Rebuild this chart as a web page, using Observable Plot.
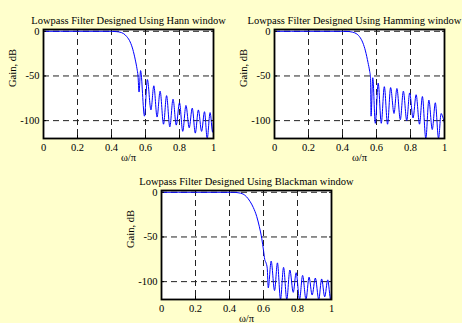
<!DOCTYPE html>
<html><head><meta charset="utf-8">
<script src="https://cdn.jsdelivr.net/npm/d3@7"></script>
<script src="https://cdn.jsdelivr.net/npm/@observablehq/plot@0.6"></script>
<style>
html,body{margin:0;padding:0;background:#ffffcc;}
#wrap{position:relative;width:462px;height:323px;overflow:hidden;background:#ffffcc;}
.panel{position:absolute;}
</style></head><body><div id="wrap"></div>
<script>
const xTicks = [0, 0.2, 0.4, 0.6, 0.8, 1];
const yTicks = [0, -50, -100];
const titles = ["Lowpass Filter Designed Using Hann window",
                "Lowpass Filter Designed Using Hamming window",
                "Lowpass Filter Designed Using Blackman window"];
const xLabel = "ω/π";
const yLabel = "Gain, dB";

const hannW  = [0,0.2,0.4,0.43,0.45,0.47,0.49,0.51,0.525,0.54,0.55,0.556,0.562,
  0.571,0.594,0.611,0.632,0.649,0.668,0.686,0.706,0.724,0.743,0.762,0.781,0.800,0.819,0.838,0.857,0.875,0.893,0.911,0.930,0.947,0.963,0.980,0.995,1.0];
const hannDb = [0,0,0,-0.4,-1,-2.5,-6,-12,-20,-32,-42,-50,-68,
  -44,-95,-54,-88,-61,-96,-67,-104,-72,-107,-76,-105,-80,-112,-83,-108,-86,-114,-88,-112,-90,-120,-91,-113,-100];

const hammW  = [0,0.2,0.4,0.44,0.46,0.48,0.50,0.52,0.535,0.55,0.56,0.565,0.568,
  0.578,0.593,0.61,0.628,0.646,0.665,0.683,0.703,0.72,0.74,0.758,0.778,0.795,0.815,0.833,0.853,0.87,0.89,0.908,0.928,0.946,0.965,0.98,0.99,1.0];
const hammDb = [0,0,0,-0.3,-1,-2.5,-6,-13,-22,-35,-45,-52,-95,
  -52,-103,-58,-103,-62,-104,-63,-92,-64,-99,-67,-100,-69,-97,-71,-104,-73,-120,-77,-110,-80,-120,-92,-96,-103];

const blackW  = [0,0.2,0.42,0.45,0.48,0.50,0.52,0.54,0.56,0.575,0.59,0.60,0.607,0.615,0.622,0.628,
  0.645,0.665,0.682,0.70,0.718,0.737,0.755,0.775,0.792,0.812,0.83,0.85,0.868,0.886,0.905,0.925,0.942,0.96,0.978,0.995,1.0];
const blackDb = [0,0,0,-0.5,-2,-5,-10,-17,-27,-38,-52,-65,-75,-79,-85,-107,
  -77,-110,-79,-120,-84,-120,-87,-112,-90,-120,-93,-120,-95,-115,-96,-120,-97,-117,-98,-120,-110];

const FONT = "'Liberation Serif', 'Times New Roman', serif";

function panel(w, db, title, left, top, height, titleDx) {
  const data = w.map((x, i) => ({w: x, g: db[i]}));
  const fmt = d => String(d);
  const none = () => "";
  const chart = Plot.plot({
    width: 231, height,
    marginLeft: 43, marginRight: 18, marginTop: 29, marginBottom: height - 138,
    style: {background: "transparent", fontFamily: FONT, fontSize: "10.5px", color: "black", overflow: "visible"},
    x: {domain: [0, 1]},
    y: {domain: [-120, 2]},
    marks: [
      Plot.frame({fill: "white"}),
      Plot.ruleX(xTicks.slice(1, -1), {stroke: "#222", strokeWidth: 1, strokeDasharray: "6,4"}),
      Plot.ruleY(yTicks, {stroke: "#222", strokeWidth: 1, strokeDasharray: "6,4"}),
      Plot.line(data, {x: "w", y: "g", stroke: "#0000ff", strokeWidth: 1, curve: "monotone-x", clip: true}),
      Plot.axisX({anchor: "bottom", ticks: xTicks, tickSize: -3, tickFormat: none, label: null, stroke: "black"}),
      Plot.axisY({anchor: "left", ticks: yTicks, tickSize: -3, tickFormat: none, label: null, stroke: "black"}),
      Plot.axisY({anchor: "right", ticks: yTicks, tickSize: -3, tickFormat: none, label: null, stroke: "black"}),
      Plot.frame({stroke: "black", strokeWidth: 1.8}),
      Plot.axisX({anchor: "bottom", ticks: xTicks, tickFormat: fmt, tickSize: 0, tickPadding: 5, label: null, fill: "black", fontSize: 10.5}),
      Plot.axisY({anchor: "left", ticks: yTicks, tickFormat: fmt, tickSize: 0, tickPadding: 4, label: null, fill: "black", fontSize: 10.5}),
      Plot.text([title], {frameAnchor: "top", dx: titleDx, dy: -13, fontSize: 10.5, fill: "black"}),
      Plot.text([xLabel], {frameAnchor: "bottom", dy: 22, fontSize: 10.5, fill: "black"}),
      Plot.text([yLabel], {frameAnchor: "left", dx: -31, dy: 3, rotate: -90, fontSize: 10.5, fill: "black"})
    ]
  });
  chart.classList.add("panel");
  chart.style.left = left + "px";
  chart.style.top = top + "px";
  document.getElementById("wrap").appendChild(chart);
}

panel(hannW, hannDb, titles[0], 0, 0, 160, 0);
panel(hammW, hammDb, titles[1], 231, 0, 160, -5);
panel(blackW, blackDb, titles[2], 118, 161, 162, 0);
</script></body></html>
